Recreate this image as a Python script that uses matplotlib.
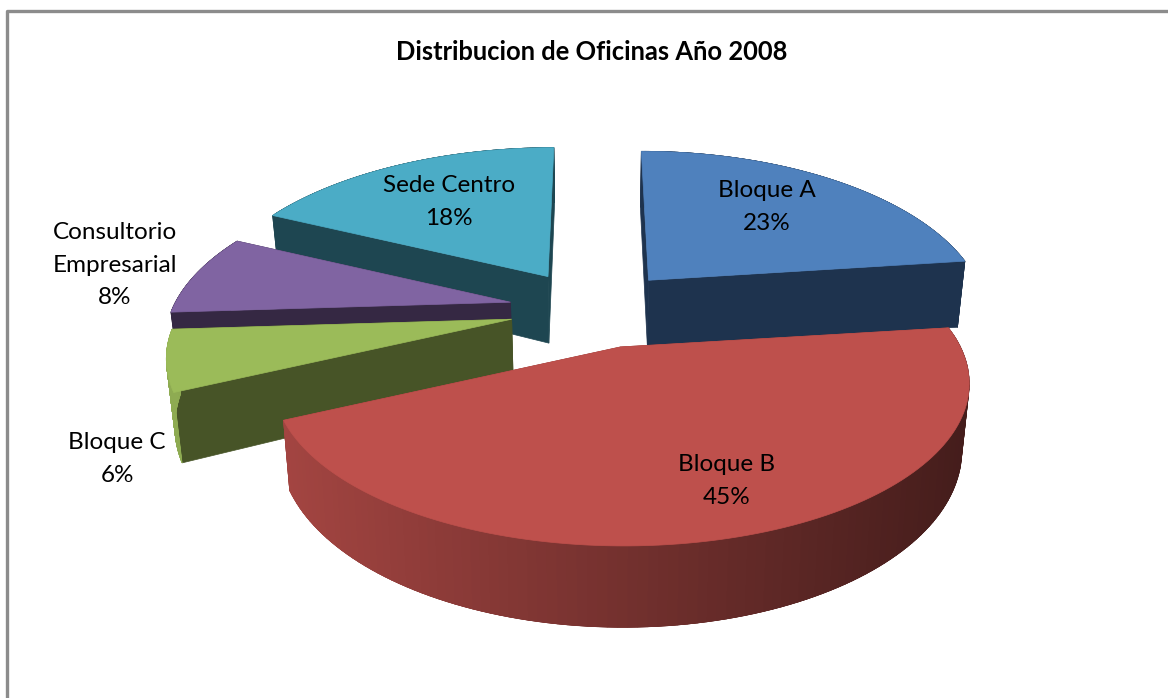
import numpy as np
import matplotlib
matplotlib.use("Agg")
import matplotlib.pyplot as plt
from matplotlib.patches import Polygon
from matplotlib.colors import to_rgb

title = "Distribucion de Oficinas Año 2008"
labels = ["Bloque A", "Bloque B", "Bloque C", "Consultorio\nEmpresarial", "Sede Centro"]
values = [23, 45, 6, 8, 18]
top_colors = ["#4F81BD", "#BE504C", "#9BBB59", "#8064A2", "#4BACC6"]
cut_colors = ["#1E334E", "#8A3A36", "#475427", "#352843", "#1E4651"]
rx_scale = [0.98, 1.015, 1.0, 1, 1]   # per-slice distortion of the 3-D render
x_nudge = [0, 4, 0, 0, 0]
depth_scale = [1.06, 1, 1, 1, 1.04]
label_pos = [(767, 207), (727, 481), (117, 459), (115, 265), (449, 202)]

W, H = 1168, 698
cx, cy = 593, 309.5    # projection centre, px
ex, ey = 84, 39        # explosion offsets, px
rx, ry = 335, 156.5    # disc radii, px
k = 0.2135             # perspective strength
depth = 64             # slab height, px
shear = 0.13
taper = 0.02


def mix(c, f):
    return tuple(np.clip(np.array(to_rgb(c)) * f, 0, 1))


fig = plt.figure(figsize=(W / 100, H / 100), dpi=100, facecolor="white")
ax = fig.add_axes([0, 0, 1, 1])
ax.set_xlim(0, W)
ax.set_ylim(H, 0)
ax.axis("off")

fr = dict(color="#8C8C8C", lw=2.4, solid_capstyle="butt")
ax.plot([6.5, 6.5, W], [H, 11, 11], **fr)

fracs = np.array(values, float) / sum(values)
edges = np.concatenate([[0], np.cumsum(fracs)]) * 2 * np.pi


def poly(xs, ys, color, z):
    ax.add_patch(Polygon(np.column_stack([xs, ys]), closed=True, fc=color, ec=color, lw=0.5, zorder=z))


def make_proj(ox, oy, rxs, dz):
    def proj(th, Z=0.0):
        s, c = np.sin(th), np.cos(th)
        w = 1 + k * c
        x = ox + rxs * s / w - (ox - cx) * shear * c
        y = oy - ry * c / w + dz * Z / w
        return x - taper * Z * (x - cx), y
    return proj


order = [4, 0, 3, 2, 1]
for rank, i in enumerate(order):
    a0, a1 = edges[i], edges[i + 1]
    mid = (a0 + a1) / 2
    ox, oy = cx + ex * np.sin(mid) + x_nudge[i], cy - ey * np.cos(mid)
    dz = depth * depth_scale[i]
    proj = make_proj(ox, oy, rx * rx_scale[i], dz)
    base = rank * 10 + 2
    th = np.linspace(a0, a1, 120)
    # cut faces
    for a in (a1, a0):
        ptx, pty = proj(a, 0)
        pbx, pby = proj(a, 1)
        poly([ox, ptx, pbx, ox - taper * (ox - cx)], [oy, pty, pby, oy + dz], cut_colors[i], base)
    # rim facets
    tx, ty = proj(th, 0)
    bx, by = proj(th, 1)
    for j in range(len(th) - 1):
        if i == 1:
            f = np.clip((tx[j] - 283) / (970 - 283), 0, 1)
            col = mix(top_colors[1], 0.86 - 0.50 * f)
        elif i == 2:
            col = "#8EAB52"
        else:
            col = cut_colors[i]
        e = min(j + 3, len(th) - 1)
        poly([tx[j], tx[e], bx[e], bx[j]], [ty[j], ty[e], by[e], by[j]], col, base + 1)
    # top face
    poly(np.r_[ox, tx], np.r_[oy, ty], top_colors[i], base + 5)

ax.text(592, 52, title, ha="center", va="center", fontsize=18.4, fontweight="bold",
        family="Lato", color="black", zorder=100)
for lab, v, (x, y) in zip(labels, values, label_pos):
    ax.text(x, y, f"{lab}\n{v}%", ha="center", va="center", fontsize=17.5, family="Lato",
            linespacing=1.68, color="black", zorder=100)

fig.savefig("out.png", dpi=100)
